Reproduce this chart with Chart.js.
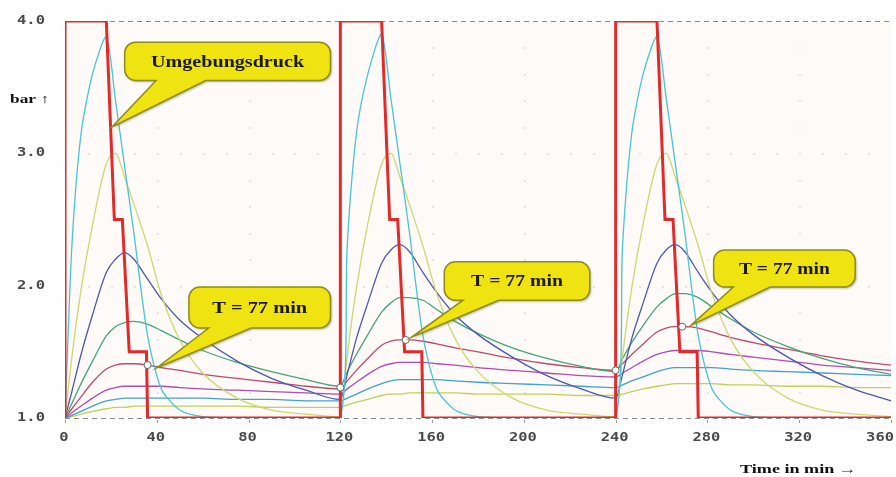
<!DOCTYPE html>
<html lang="de">
<head>
<meta charset="UTF-8">
<title>Gewebedruck</title>
<script src="https://cdn.jsdelivr.net/npm/chart.js"></script>
<style>
    html, body { margin: 0; padding: 0; background: #fefefe; }
    #box { width: 896px; height: 477px; }
</style>
</head>
<body>
<div id="box"><canvas id="tissueChart" width="896" height="477"></canvas></div>
<script>
    // time grid in minutes (three dives of 120 min each)
    const times = [0, 3, 7, 12, 18, 22, 26, 30, 36, 42, 50, 60, 75, 90, 105,
        120, 123, 127, 132, 138, 142, 146, 150, 156, 162, 170, 180, 195, 210, 225,
        240, 243, 247, 252, 258, 262, 266, 270, 276, 282, 290, 300, 315, 330, 345, 360];

    // tissue pressures in bar
    const cyanBar = [1.0, 2.3, 3.15, 3.6, 3.88, 3.4, 2.9, 2.4, 1.62, 1.22, 1.06, 1.01, 1.0, 1.0, 1.0,
        1.0, 2.3, 3.15, 3.6, 3.9, 3.42, 2.92, 2.42, 1.62, 1.22, 1.06, 1.01, 1.0, 1.0, 1.0,
        1.0, 2.3, 3.15, 3.6, 3.88, 3.42, 2.92, 2.42, 1.62, 1.22, 1.06, 1.01, 1.0, 1.0, 1.0, 1.0];
    const yellowBar = [1.0, 1.46, 1.97, 2.46, 2.92, 3.0, 2.82, 2.62, 2.3, 1.93, 1.59, 1.34, 1.15, 1.06, 1.03,
        1.01, 1.47, 1.98, 2.47, 2.92, 3.0, 2.82, 2.62, 2.3, 1.94, 1.6, 1.35, 1.15, 1.06, 1.03,
        1.01, 1.47, 1.98, 2.47, 2.92, 3.0, 2.82, 2.62, 2.3, 1.94, 1.6, 1.35, 1.15, 1.06, 1.03, 1.01];
    const blueBar = [1.0, 1.2, 1.48, 1.78, 2.1, 2.2, 2.25, 2.2, 2.05, 1.9, 1.74, 1.6, 1.43, 1.3, 1.21,
        1.14, 1.33, 1.6, 1.87, 2.17, 2.27, 2.31, 2.26, 2.1, 1.95, 1.78, 1.63, 1.46, 1.32, 1.22,
        1.15, 1.33, 1.6, 1.87, 2.17, 2.27, 2.31, 2.26, 2.1, 1.95, 1.78, 1.63, 1.46, 1.32, 1.21, 1.13];
    const greenBar = [1.0, 1.11, 1.26, 1.43, 1.62, 1.69, 1.72, 1.73, 1.71, 1.66, 1.59, 1.51, 1.42, 1.35, 1.29,
        1.24, 1.35, 1.48, 1.63, 1.8, 1.87, 1.91, 1.91, 1.89, 1.82, 1.73, 1.64, 1.53, 1.45, 1.39,
        1.35, 1.45, 1.57, 1.7, 1.84, 1.9, 1.94, 1.94, 1.91, 1.84, 1.75, 1.65, 1.54, 1.45, 1.38, 1.33];
    const crimsonBar = [1.0, 1.07, 1.16, 1.27, 1.37, 1.4, 1.41, 1.41, 1.4, 1.38, 1.36, 1.33, 1.3, 1.27, 1.24,
        1.22, 1.28, 1.36, 1.45, 1.55, 1.58, 1.59, 1.59, 1.58, 1.56, 1.53, 1.5, 1.45, 1.41, 1.38,
        1.36, 1.41, 1.48, 1.56, 1.65, 1.68, 1.69, 1.69, 1.68, 1.65, 1.61, 1.57, 1.52, 1.47, 1.43, 1.4];
    const magentaBar = [1.0, 1.04, 1.09, 1.15, 1.21, 1.23, 1.24, 1.24, 1.24, 1.24, 1.23, 1.22, 1.21, 1.2, 1.19,
        1.18, 1.22, 1.27, 1.33, 1.39, 1.41, 1.42, 1.42, 1.42, 1.41, 1.4, 1.38, 1.36, 1.34, 1.32,
        1.31, 1.34, 1.38, 1.43, 1.48, 1.5, 1.51, 1.51, 1.51, 1.5, 1.48, 1.46, 1.43, 1.4, 1.38, 1.36];
    const lightBlueBar = [1.0, 1.02, 1.05, 1.09, 1.13, 1.14, 1.15, 1.15, 1.15, 1.15, 1.15, 1.15, 1.14, 1.14, 1.13,
        1.13, 1.15, 1.18, 1.22, 1.26, 1.28, 1.29, 1.29, 1.29, 1.29, 1.28, 1.27, 1.26, 1.25, 1.24,
        1.23, 1.25, 1.28, 1.31, 1.35, 1.37, 1.38, 1.38, 1.38, 1.38, 1.37, 1.36, 1.35, 1.34, 1.33, 1.32];
    const limeBar = [1.0, 1.01, 1.03, 1.05, 1.07, 1.08, 1.08, 1.09, 1.09, 1.09, 1.09, 1.09, 1.09, 1.08, 1.08,
        1.08, 1.1, 1.12, 1.14, 1.17, 1.18, 1.18, 1.19, 1.19, 1.19, 1.19, 1.18, 1.18, 1.18, 1.17,
        1.17, 1.18, 1.2, 1.22, 1.24, 1.25, 1.26, 1.26, 1.26, 1.26, 1.25, 1.25, 1.24, 1.24, 1.23, 1.23];

    // ambient pressure (Umgebungsdruck)
    const ambientTimes = [0, 0, 18, 21.5, 25, 28, 35.5, 36, 120, 120, 138, 141.5, 145, 148, 155.5, 156,
        240, 240, 258, 261.5, 265, 268, 275.5, 276, 360];
    const ambientBar = [1, 4, 4, 2.5, 2.5, 1.5, 1.5, 1, 1, 4, 4, 2.5, 2.5, 1.5, 1.5, 1,
        1, 4, 4, 2.5, 2.5, 1.5, 1.5, 1, 1];

    // T = 77 min markers
    const markTimes = [36, 120, 148.5, 240, 269];
    const markBar = [1.4, 1.23, 1.59, 1.36, 1.69];

    const xTicks = [0, 40, 80, 120, 160, 200, 240, 280, 320, 360];
    const yTicks = [1, 2, 3, 4];

    const pts = (xs, ys) => xs.map((t, i) => ({ x: t, y: ys[i] }));

    function curve(values, color, tension) {
        const ds = {
            data: pts(times, values), borderColor: color, borderWidth: 1.3,
            pointRadius: 0, order: 3
        };
        if (tension !== undefined) ds.tension = tension;
        else ds.cubicInterpolationMode = 'monotone';
        return ds;
    }

    // callouts, positions in data units
    const callouts = [
        { text: 'Umgebungsdruck', x0: 26, x1: 115.7, y0: 3.84, y1: 3.55, b0: 39.7, b1: 61.3, tip: [20.5, 3.2], w: 153 },
        { text: 'T = 77 min', x0: 54, x1: 115.7, y0: 1.99, y1: 1.68, b0: 62.6, b1: 81.1, tip: [40.1, 1.38], w: 95 },
        { text: 'T = 77 min', x0: 165.3, x1: 228.7, y0: 2.18, y1: 1.89, b0: 173.5, b1: 189, tip: [151, 1.61], w: 92 },
        { text: 'T = 77 min', x0: 282.7, x1: 344.4, y0: 2.27, y1: 1.99, b0: 291.3, b1: 307.3, tip: [272.8, 1.70], w: 91 }
    ];

    function stretchText(ctx, text, x, y, width, align) {
        const w = ctx.measureText(text).width;
        ctx.save();
        ctx.translate(x, y);
        ctx.scale(width / w, 1);
        ctx.textAlign = align;
        ctx.fillText(text, 0, 0);
        ctx.restore();
    }

    const decor = {
        id: 'decor',
        beforeDraw(chart) {
            const { ctx, chartArea: a, scales: { x, y } } = chart;
            ctx.save();
            ctx.fillStyle = '#fefefe';
            ctx.fillRect(0, 0, chart.width, chart.height);
            ctx.fillStyle = '#fdfaf7';
            ctx.fillRect(a.left, a.top, a.right - a.left, a.bottom - a.top);

            // faint dotted grid
            ctx.fillStyle = '#e8e3df';
            for (const t of xTicks) {
                if (t % 120 === 0) continue;
                const px = Math.round(x.getPixelForValue(t));
                for (let k = 1; k < 15; k++) {
                    ctx.fillRect(px, Math.round(y.getPixelForValue(1 + k * 0.2)), 2, 2);
                }
            }
            for (const v of [2, 3]) {
                const py = Math.round(y.getPixelForValue(v));
                for (let t = 10; t < 360; t += 10) {
                    ctx.fillRect(Math.round(x.getPixelForValue(t)), py, 2, 2);
                }
            }

            // dashed top and bottom lines
            ctx.strokeStyle = '#8e8e8e';
            ctx.lineWidth = 1;
            ctx.setLineDash([5, 4]);
            for (const v of [4, 1]) {
                const py = Math.round(y.getPixelForValue(v)) + 0.5;
                ctx.beginPath();
                ctx.moveTo(a.left, py);
                ctx.lineTo(a.right, py);
                ctx.stroke();
            }
            ctx.setLineDash([]);
            ctx.restore();
        },
        afterDatasetsDraw(chart) {
            const { ctx, chartArea: a, scales: { x, y } } = chart;
            ctx.save();

            // callouts
            for (const c of callouts) {
                const l = x.getPixelForValue(c.x0), r = x.getPixelForValue(c.x1);
                const t = y.getPixelForValue(c.y0), b = y.getPixelForValue(c.y1);
                const bl = x.getPixelForValue(c.b0), br = x.getPixelForValue(c.b1);
                const tx = x.getPixelForValue(c.tip[0]), ty = y.getPixelForValue(c.tip[1]);
                const rad = 11;
                ctx.beginPath();
                ctx.moveTo(l + rad, t);
                ctx.lineTo(r - rad, t);
                ctx.arcTo(r, t, r, t + rad, rad);
                ctx.lineTo(r, b - rad);
                ctx.arcTo(r, b, r - rad, b, rad);
                ctx.lineTo(br, b);
                ctx.lineTo(tx, ty);
                ctx.lineTo(bl, b);
                ctx.lineTo(l + rad, b);
                ctx.arcTo(l, b, l, b - rad, rad);
                ctx.lineTo(l, t + rad);
                ctx.arcTo(l, t, l + rad, t, rad);
                ctx.closePath();
                ctx.shadowColor = 'rgba(60,60,0,0.35)';
                ctx.shadowOffsetX = 1.5;
                ctx.shadowOffsetY = 1.5;
                ctx.shadowBlur = 2;
                ctx.fillStyle = '#efe412';
                ctx.fill();
                ctx.shadowColor = 'transparent';
                ctx.strokeStyle = '#8f8c18';
                ctx.lineWidth = 1.5;
                ctx.stroke();

                ctx.fillStyle = '#1c1a08';
                ctx.font = 'bold 16px "Liberation Serif"';
                ctx.textBaseline = 'middle';
                stretchText(ctx, c.text, (l + r) / 2, (t + b) / 2 + 1, c.w, 'center');
            }

            // tick labels
            ctx.fillStyle = '#4a4a4a';
            ctx.font = 'bold 12px "DejaVu Sans Mono"';
            ctx.textBaseline = 'middle';
            for (const v of yTicks) {
                stretchText(ctx, v.toFixed(1), 45, y.getPixelForValue(v), 28, 'right');
            }
            for (const t of xTicks) {
                const s = String(t);
                const w = s.length * 9.3;
                let cx = x.getPixelForValue(t) - 1;
                if (cx + w / 2 > chart.width - 2) cx = chart.width - 2 - w / 2;
                stretchText(ctx, s, cx, 438, w, 'center');
            }
            // small ticks below the axis
            ctx.strokeStyle = '#9a9a9a';
            ctx.lineWidth = 1;
            for (const t of xTicks) {
                const px = Math.round(x.getPixelForValue(t)) + 0.5;
                ctx.beginPath();
                ctx.moveTo(px, a.bottom + 2);
                ctx.lineTo(px, a.bottom + 5);
                ctx.stroke();
            }

            // axis titles
            ctx.fillStyle = '#111';
            ctx.font = 'bold 12px "Liberation Serif"';
            stretchText(ctx, 'bar \u2191', 10, 100, 39, 'left');
            stretchText(ctx, 'Time in min \u2192', 740, 470, 117, 'left');
            ctx.restore();
        }
    };

    const ctx = document.getElementById('tissueChart').getContext('2d');
    const tissueChart = new Chart(ctx, {
        type: 'line',
        data: {
            datasets: [
                {
                    data: pts(markTimes, markBar), showLine: false, pointRadius: 3.5,
                    pointBackgroundColor: '#ffffff', pointBorderColor: '#6a6a6a', pointBorderWidth: 1, order: 1
                },
                {
                    data: pts(ambientTimes, ambientBar), borderColor: '#e22a2a', borderWidth: 3,
                    pointRadius: 0, tension: 0, order: 2
                },
                curve(cyanBar, '#45c6d3', 0.25),
                curve(yellowBar, '#cdd772'),
                curve(blueBar, '#4d58b4'),
                curve(greenBar, '#45a577'),
                curve(crimsonBar, '#c2486a'),
                curve(magentaBar, '#b04cb2'),
                curve(lightBlueBar, '#3ea3d2'),
                curve(limeBar, '#bcd35a')
            ]
        },
        options: {
            responsive: false,
            animation: false,
            layout: { padding: { top: 21, right: 0, bottom: 0, left: 0 } },
            plugins: { legend: { display: false }, tooltip: { enabled: false } },
            scales: {
                x: {
                    type: 'linear', min: 0, max: 360,
                    ticks: { display: false }, grid: { display: false }, border: { display: false },
                    afterFit(s) { s.height = 59; }
                },
                y: {
                    min: 1, max: 4,
                    ticks: { display: false }, grid: { display: false }, border: { display: false },
                    afterFit(s) { s.width = 65; }
                }
            }
        },
        plugins: [decor]
    });
</script>
</body>
</html>
